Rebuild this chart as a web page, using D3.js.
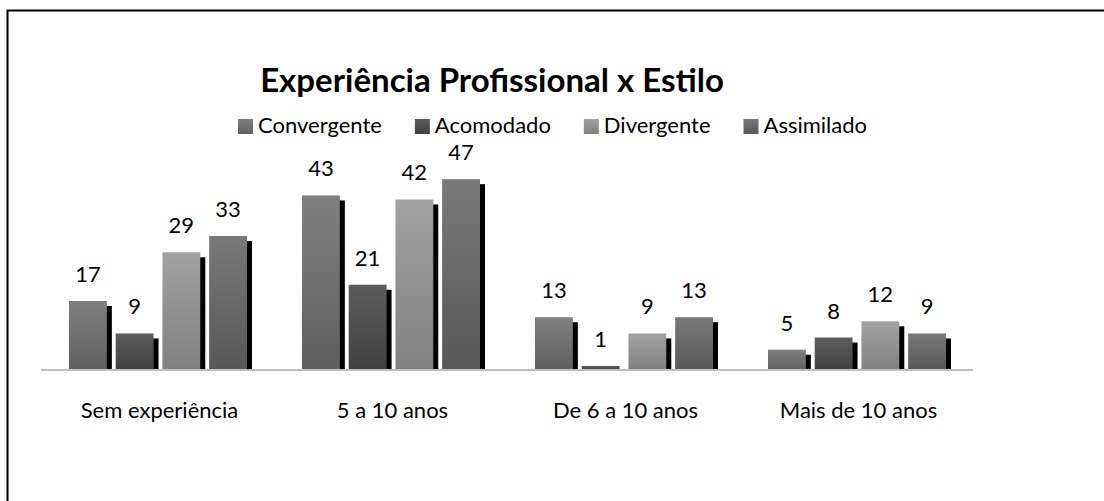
<!DOCTYPE html>
<html>
<head>
<meta charset="utf-8">
<script src="https://cdn.jsdelivr.net/npm/d3@7"></script>
<style>
  body { margin: 0; background: #fff; }
  svg { display: block; }
  text { font-family: Lato, "Open Sans", sans-serif; fill: #000; }
</style>
</head>
<body>
<div id="chart"></div>
<script>
const categories = ['Sem experiência', '5 a 10 anos', 'De 6 a 10 anos', 'Mais de 10 anos']
const seriesNames = ['Convergente', 'Acomodado', 'Divergente', 'Assimilado']
const convergente = [17, 43, 13, 5]
const acomodado = [9, 21, 1, 8]
const divergente = [29, 42, 9, 12]
const assimilado = [33, 47, 13, 9]

const values = [convergente, acomodado, divergente, assimilado]
// gradient top / bottom per series
const shades = [['#808080', '#5f5f5f'], ['#5c5c5c', '#414141'], ['#a2a2a2', '#808080'], ['#797979', '#585858']]

const width = 1104, height = 501
const baseY = 370

const svg = d3.select('#chart').append('svg')
  .attr('width', width)
  .attr('height', height)

// frame (only top and left edges visible)
svg.append('path')
  .attr('d', 'M7.5,' + height + ' V10.5 H' + width)
  .attr('fill', 'none')
  .attr('stroke', '#000')
  .attr('stroke-width', 2)

const defs = svg.append('defs')
seriesNames.forEach((s, i) => {
  const g = defs.append('linearGradient')
    .attr('id', 'grad' + i)
    .attr('x1', 0).attr('y1', 0).attr('x2', 0).attr('y2', 1)
  g.append('stop').attr('offset', '0%').attr('stop-color', shades[i][0])
  g.append('stop').attr('offset', '100%').attr('stop-color', shades[i][1])
})

const x0 = d3.scaleBand()
  .domain(categories)
  .range([41, 973])

const x1 = d3.scaleBand()
  .domain(seriesNames)
  .range([28, 206])
  .paddingInner(0.19)

const y = d3.scaleLinear()
  .domain([0, 50])
  .range([baseY, baseY - 203])

const data = []
categories.forEach((c, ci) => {
  seriesNames.forEach((s, si) => {
    data.push({ cat: c, series: s, si: si, value: values[si][ci] })
  })
})

// shadows
svg.selectAll('rect.shadow')
  .data(data)
  .enter()
  .append('rect')
    .attr('class', 'shadow')
    .attr('x', d => x0(d.cat) + x1(d.series) + 5)
    .attr('y', d => Math.min(y(d.value) + 5, baseY))
    .attr('width', x1.bandwidth())
    .attr('height', d => Math.max(baseY - y(d.value) - 5, 0))
    .attr('fill', '#000')

svg.selectAll('rect.bar')
  .data(data)
  .enter()
  .append('rect')
    .attr('class', 'bar')
    .attr('x', d => x0(d.cat) + x1(d.series))
    .attr('y', d => y(d.value))
    .attr('width', x1.bandwidth())
    .attr('height', d => baseY - y(d.value))
    .attr('fill', d => 'url(#grad' + d.si + ')')

// axis line
svg.append('line')
  .attr('x1', x0.range()[0]).attr('x2', x0.range()[1])
  .attr('y1', baseY).attr('y2', baseY)
  .attr('stroke', '#bfbfbf')
  .attr('stroke-width', 2)

// value labels
svg.selectAll('text.value')
  .data(data)
  .enter()
  .append('text')
    .attr('class', 'value')
    .attr('x', d => x0(d.cat) + x1(d.series) + x1.bandwidth() / 2)
    .attr('y', d => y(d.value) - 19)
    .attr('text-anchor', 'middle')
    .style('font-size', '22px')
    .text(d => d.value)

// category labels
svg.selectAll('text.cat')
  .data(categories)
  .enter()
  .append('text')
    .attr('class', 'cat')
    .attr('x', d => x0(d) + x0.bandwidth() / 2 + 2)
    .attr('y', 418)
    .attr('text-anchor', 'middle')
    .style('font-size', '22px')
    .text(d => d)

// title
svg.append('text')
  .attr('x', 492)
  .attr('y', 92)
  .attr('text-anchor', 'middle')
  .style('font-size', '33px')
  .style('font-weight', 'bold')
  .text('Experiência Profissional x Estilo')

// legend
const items = svg.append('g')
  .selectAll('g')
  .data(seriesNames)
  .enter()
  .append('g')
items.append('rect')
  .attr('width', 15).attr('height', 15)
  .attr('y', 119)
  .attr('fill', (d, i) => 'url(#grad' + i + ')')
items.append('text')
  .attr('x', 20)
  .attr('y', 133)
  .style('font-size', '22px')
  .text(d => d)

let lx = 238
items.each(function () {
  d3.select(this).attr('transform', 'translate(' + lx + ',0)')
  lx += this.getBBox().width + 33
})
</script>
</body>
</html>
